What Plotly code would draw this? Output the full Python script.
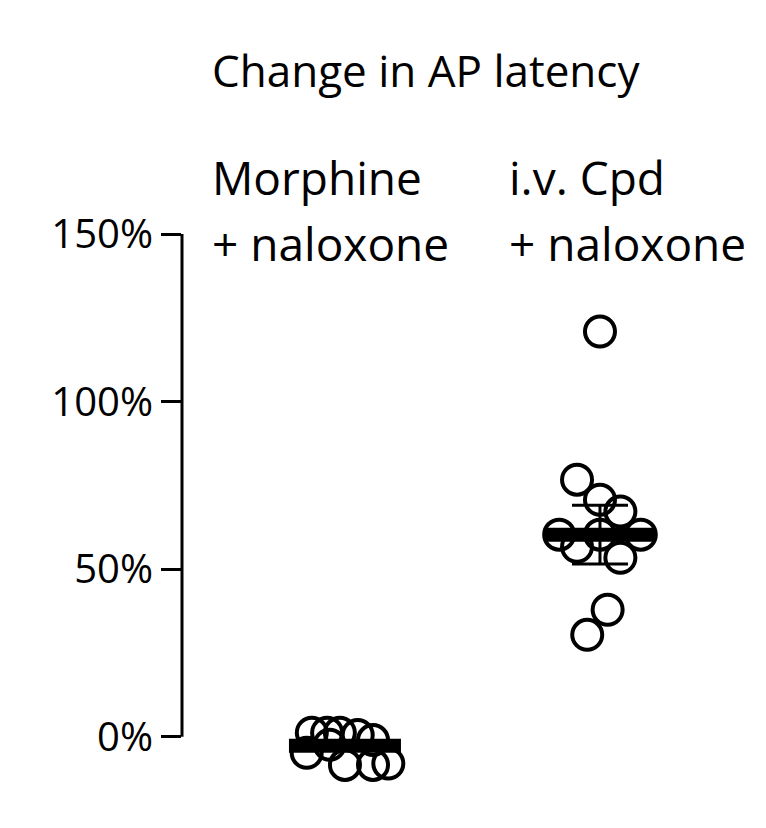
import plotly.graph_objects as go

# values (percent change)
morph_y = [1.2, 1.2, 1.2, 0.5, -1.0, -4.8, -8.4, -8.4, -8.0, -2.4]
morph_dx = [-0.13, -0.07, -0.02, 0.05, 0.11, -0.15, 0.0, 0.11, 0.17, -0.06]
cpd_y = [76.7, 70.7, 67.2, 60.3, 60.3, 60.3, 56.7, 53.4, 37.9, 30.4, 120.9]
cpd_dx = [-0.09, 0.0, 0.08, -0.16, 0.0, 0.16, -0.09, 0.08, 0.03, -0.05, 0.0]
means = [-2.7, 60.3]
sems = [1.0, 8.8]
group_line1 = ["Morphine", "i.v. Cpd"]
group_line2 = ["+ naloxone", "+ naloxone"]
label_x = [-0.53, 0.635]
tick_vals = [0, 50, 100, 150]
tick_text = ["0%", "50%", "100%", "150%"]

FONT = "Open Sans"
fig = go.Figure()
for gx, ys, dxs in [(0, morph_y, morph_dx), (1, cpd_y, cpd_dx)]:
    fig.add_trace(go.Scatter(
        x=[gx + d for d in dxs], y=ys, mode="markers",
        marker=dict(symbol="circle-open", size=30, color="black", line=dict(width=4, color="black"))))

fig.add_trace(go.Scatter(
    x=[0, 1], y=means, mode="markers",
    marker=dict(symbol="line-ew", size=80, line=dict(width=14, color="black")),
    error_y=dict(type="data", array=sems, width=28, thickness=3, color="black")))

for lx, l1, l2 in zip(label_x, group_line1, group_line2):
    for txt, py in [(l1, 1.103), (l2, 0.984)]:
        fig.add_annotation(x=lx, xanchor="left", y=py, yref="paper", yanchor="middle",
                           text=txt, showarrow=False,
                           font=dict(family=FONT, size=46, color="black"))
fig.add_annotation(x=-0.53, xanchor="left", y=1.297, yref="paper", yanchor="middle",
                   text="Change in AP latency", showarrow=False,
                   font=dict(family=FONT, size=44, color="black"))

fig.add_shape(type="line", xref="paper", x0=0, x1=0, y0=0, y1=150,
              line=dict(color="black", width=3))

fig.update_layout(
    width=766, height=828, showlegend=False,
    plot_bgcolor="white", paper_bgcolor="white",
    margin=dict(l=174, r=8, t=226, b=49),
)
fig.update_xaxes(range=[-0.639, 1.651], visible=False)
fig.update_yaxes(range=[-15, 150], tickvals=tick_vals, ticktext=tick_text,
                 ticks="outside", ticklen=20, tickwidth=3, tickcolor="black",
                 showgrid=False, zeroline=False, showline=False,
                 tickfont=dict(family=FONT, size=40, color="black"))

fig.write_html("out.html")
